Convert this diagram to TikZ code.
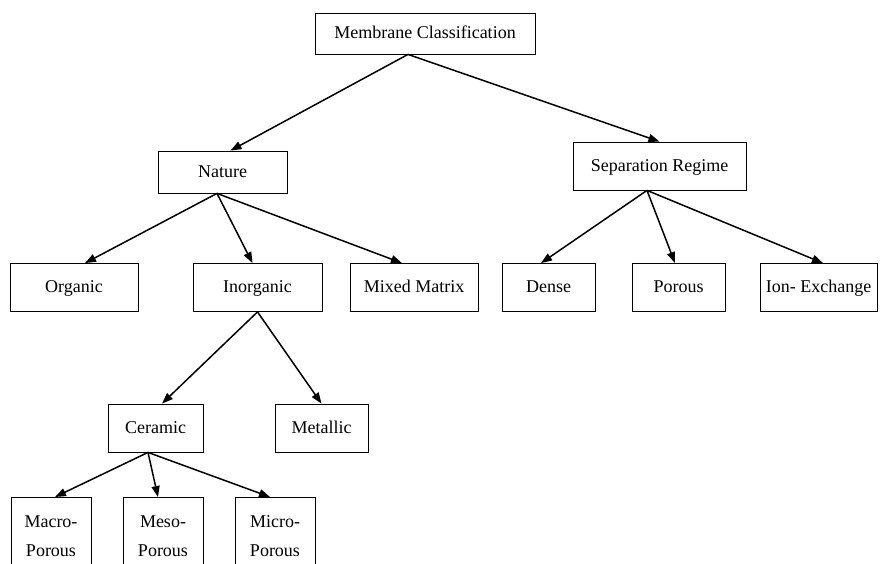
\documentclass[tikz,border=0pt]{standalone}
\usepackage{fontspec}
\setmainfont{Liberation Serif}
\usepackage{tikz}
\usetikzlibrary{arrows.meta}

\begin{document}
\begin{tikzpicture}[
    x=1pt, y=-1pt,
    box/.style={draw, line width=0.8pt, inner sep=0pt, minimum height=48pt, align=center,
        text height=13pt, text depth=3pt, font=\fontsize{18}{29}\selectfont},
    leaf/.style={box, anchor=north, text height=59pt, text depth=20pt, minimum width=80pt},
    arr/.style={-{Triangle[length=11pt, width=8pt]}, line width=1.5pt},
]
    \useasboundingbox (0,0) rectangle (881,563);

    % Root
    \node[box, minimum width=220pt, minimum height=41pt] (mc) at (425, 33.5) {Membrane Classification};

    % First level
    \node[box, minimum width=129pt, minimum height=42pt] (nature) at (222.5, 172) {Nature};
    \node[box, minimum width=173pt] (sep) at (659.5, 166) {Separation Regime};

    % Nature branch
    \node[box, minimum width=128pt] (organic) at (74, 287.5) {Organic};
    \node[box, minimum width=129pt] (inorg) at (257.5, 287.5) {Inorganic};
    \node[box, minimum width=128pt] (mixed) at (414, 287.5) {Mixed Matrix};

    % Separation branch
    \node[box, minimum width=93pt] (dense) at (548.5, 287.5) {Dense};
    \node[box, minimum width=93pt] (porous) at (678.5, 287.5) {Porous};
    \node[box, minimum width=117pt] (ionex) at (818.5, 287.5) {Ion- Exchange};

    % Inorganic branch
    \node[box, minimum width=95pt] (ceramic) at (155.5, 428) {Ceramic};
    \node[box, minimum width=93pt] (metallic) at (321.5, 428) {Metallic};

    % Ceramic pores
    \node[leaf] (macro) at (51, 497) {Macro-\\Porous};
    \node[leaf] (meso) at (163, 497) {Meso-\\Porous};
    \node[leaf] (micro) at (275, 497) {Micro-\\Porous};

    % Arrows
    \draw[arr] ([xshift=-17pt]mc.south) -- ([xshift=8pt]nature.north);
    \draw[arr] ([xshift=-17pt]mc.south) -- (sep.north);
    \draw[arr] ([xshift=-5.5pt]nature.south) -- ([xshift=11pt]organic.north);
    \draw[arr] ([xshift=-5.5pt]nature.south) -- ([xshift=-5pt]inorg.north);
    \draw[arr] ([xshift=-5.5pt]nature.south) -- ([xshift=-12pt]mixed.north);
    \draw[arr] ([xshift=-12.5pt]sep.south) -- ([xshift=-7.5pt]dense.north);
    \draw[arr] ([xshift=-12.5pt]sep.south) -- ([xshift=-3.5pt]porous.north);
    \draw[arr] ([xshift=-12.5pt]sep.south) -- ([xshift=4.5pt]ionex.north);
    \draw[arr] (inorg.south) -- ([xshift=6.5pt]ceramic.north);
    \draw[arr] (inorg.south) -- (metallic.north);
    \draw[arr] ([xshift=-7.5pt]ceramic.south) -- ([xshift=4pt]macro.north);
    \draw[arr] ([xshift=-7.5pt]ceramic.south) -- ([xshift=-5pt]meso.north);
    \draw[arr] ([xshift=-7.5pt]ceramic.south) -- ([xshift=-5pt]micro.north);
\end{tikzpicture}
\end{document}
